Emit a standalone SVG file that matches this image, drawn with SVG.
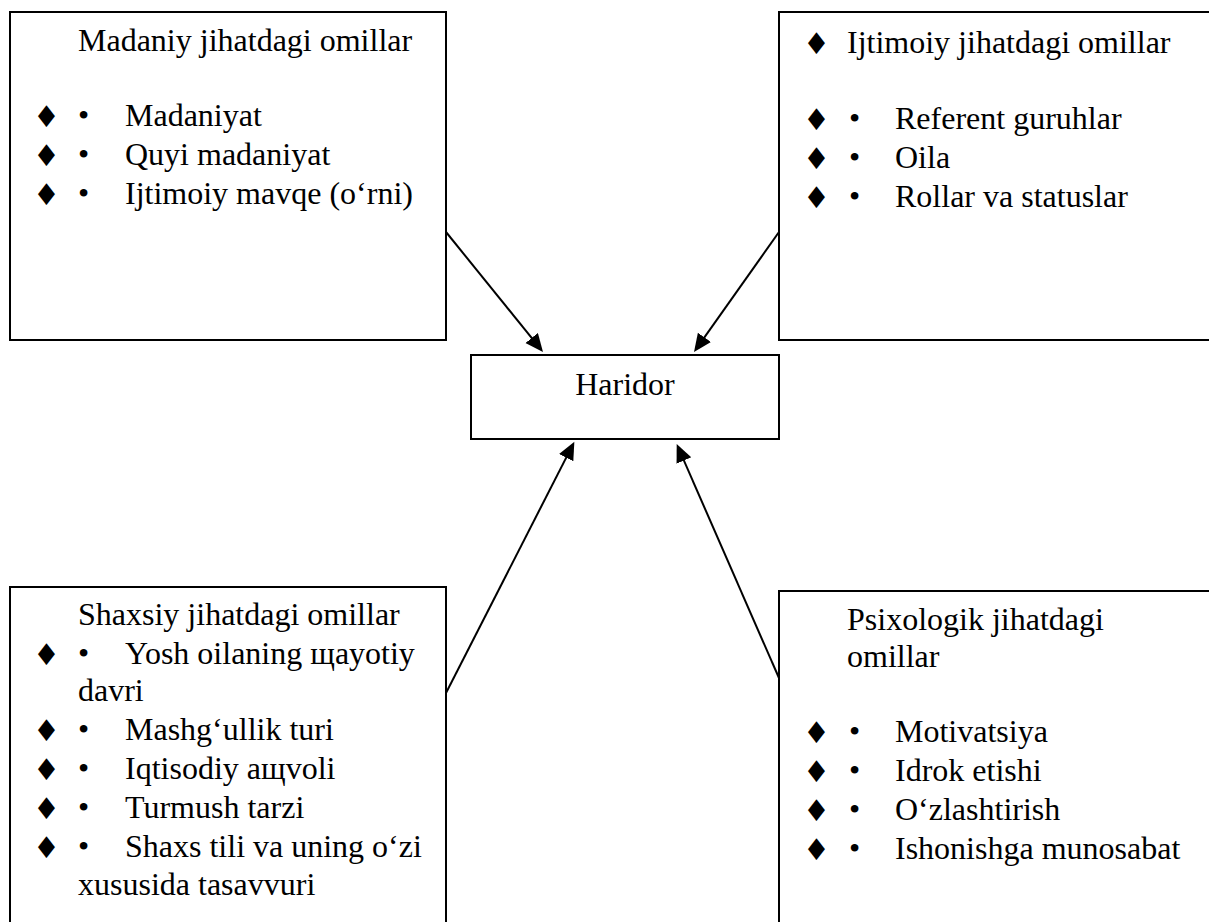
<svg xmlns="http://www.w3.org/2000/svg" width="1209" height="922" viewBox="0 0 1209 922">
<style>
.box{fill:#fff;stroke:#000;stroke-width:2}
.t{font-family:"Liberation Serif","Times New Roman",serif;font-size:32px;fill:#000}
.d{font-family:"DejaVu Sans",sans-serif;font-size:30px;fill:#000}
.c{stroke:#000;stroke-width:2;fill:none;marker-end:url(#ah)}
</style>
<defs>
<marker id="ah" markerUnits="userSpaceOnUse" markerWidth="20" markerHeight="18" refX="8" refY="8" orient="auto">
<path d="M0,0 L18,8 L0,16 z" fill="#000"/>
</marker>
</defs>
<rect width="1209" height="922" fill="#fff"/>
<g id="connectors">
<line class="c" x1="446" y1="232" x2="536.7" y2="344.2"/>
<line class="c" x1="779" y1="232" x2="699.8" y2="343.8"/>
<line class="c" x1="446" y1="693" x2="569.8" y2="450.6"/>
<line class="c" x1="779" y1="678" x2="680.7" y2="453.2"/>
</g>
<g id="madaniy">
<rect class="box" x="10" y="12" width="436" height="328"/>
<text class="t" x="78" y="51">Madaniy jihatdagi omillar</text>
<text class="d" x="33" y="127">♦</text><text class="t" x="78" y="126">•</text><text class="t" x="125" y="126">Madaniyat</text>
<text class="d" x="33" y="166">♦</text><text class="t" x="78" y="165">•</text><text class="t" x="125" y="165">Quyi madaniyat</text>
<text class="d" x="33" y="205">♦</text><text class="t" x="78" y="204">•</text><text class="t" x="125" y="204">Ijtimoiy mavqe (o‘rni)</text>
</g>
<g id="ijtimoiy">
<rect class="box" x="779" y="12" width="440" height="328"/>
<text class="d" x="803" y="54">♦</text><text class="t" x="847" y="53">Ijtimoiy jihatdagi omillar</text>
<text class="d" x="803" y="130">♦</text><text class="t" x="849" y="129">•</text><text class="t" x="895" y="129">Referent guruhlar</text>
<text class="d" x="803" y="169">♦</text><text class="t" x="849" y="168">•</text><text class="t" x="895" y="168">Oila</text>
<text class="d" x="803" y="208">♦</text><text class="t" x="849" y="207">•</text><text class="t" x="895" y="207">Rollar va statuslar</text>
</g>
<g id="haridor">
<rect class="box" x="471" y="355" width="308" height="84"/>
<text class="t" x="625" y="395" text-anchor="middle">Haridor</text>
</g>
<g id="shaxsiy">
<rect class="box" x="10" y="587" width="436" height="345"/>
<text class="t" x="78" y="625">Shaxsiy jihatdagi omillar</text>
<text class="d" x="33" y="665">♦</text><text class="t" x="78" y="664">•</text><text class="t" x="125" y="664">Yosh oilaning щayotiy</text>
<text class="t" x="78" y="701">davri</text>
<text class="d" x="33" y="741">♦</text><text class="t" x="78" y="740">•</text><text class="t" x="125" y="740">Mashg‘ullik turi</text>
<text class="d" x="33" y="780">♦</text><text class="t" x="78" y="779">•</text><text class="t" x="125" y="779">Iqtisodiy aщvoli</text>
<text class="d" x="33" y="819">♦</text><text class="t" x="78" y="818">•</text><text class="t" x="125" y="818">Turmush tarzi</text>
<text class="d" x="33" y="858">♦</text><text class="t" x="78" y="857">•</text><text class="t" x="125" y="857">Shaxs tili va uning o‘zi</text>
<text class="t" x="78" y="895">xususida tasavvuri</text>
</g>
<g id="psixologik">
<rect class="box" x="779" y="591" width="440" height="341"/>
<text class="t" x="847" y="630">Psixologik jihatdagi</text>
<text class="t" x="847" y="667">omillar</text>
<text class="d" x="803" y="743">♦</text><text class="t" x="849" y="742">•</text><text class="t" x="895" y="742">Motivatsiya</text>
<text class="d" x="803" y="782">♦</text><text class="t" x="849" y="781">•</text><text class="t" x="895" y="781">Idrok etishi</text>
<text class="d" x="803" y="821">♦</text><text class="t" x="849" y="820">•</text><text class="t" x="895" y="820">O‘zlashtirish</text>
<text class="d" x="803" y="860">♦</text><text class="t" x="849" y="859">•</text><text class="t" x="895" y="859">Ishonishga munosabat</text>
</g>
</svg>
